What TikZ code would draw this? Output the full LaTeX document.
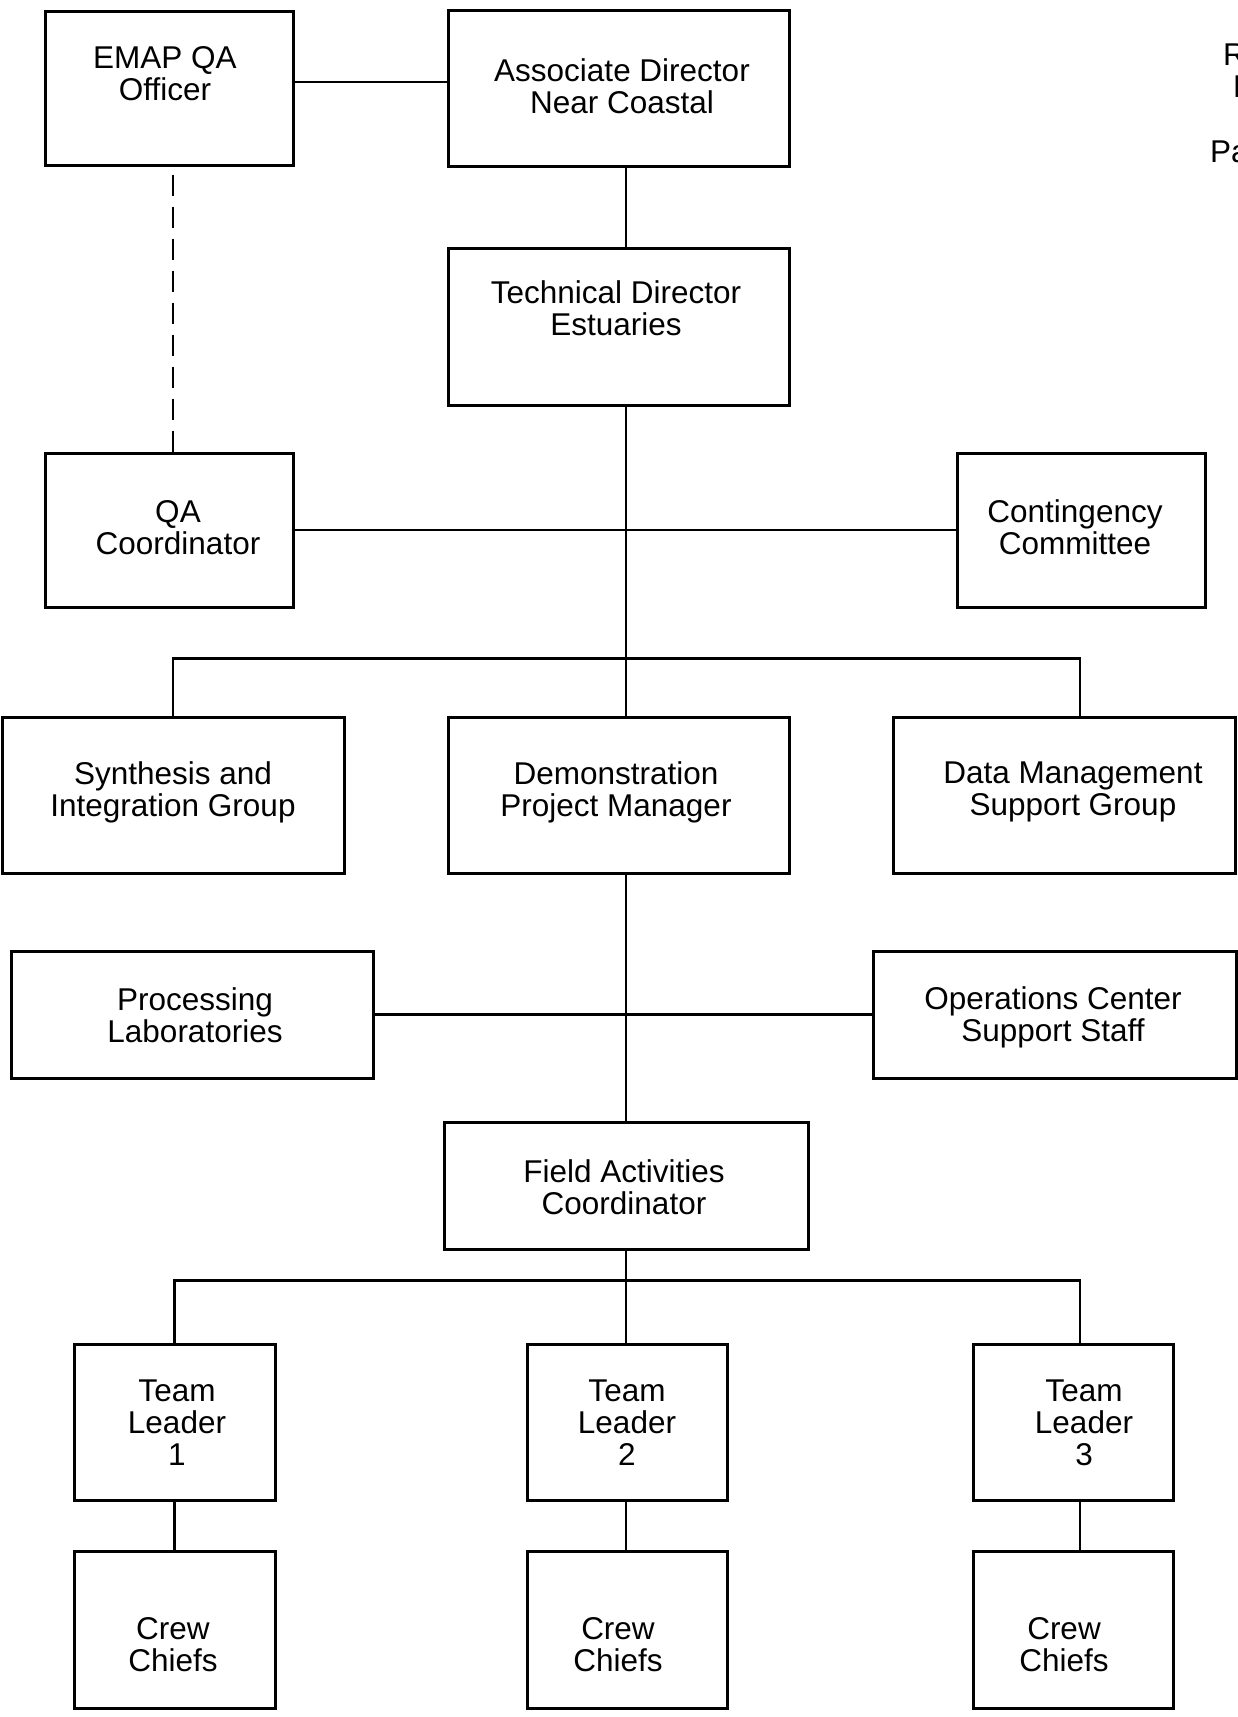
\documentclass[tikz,border=0pt]{standalone}
\usepackage{fontspec}
\setmainfont{Liberation Sans}
\begin{document}
\begin{tikzpicture}[x=1pt,y=-1pt,
  box/.style={draw, line width=3pt, inner sep=0pt},
  conn/.style={line width=2.2pt},
  dashconn/.style={line width=2.6pt, dash pattern=on 21.5pt off 10.5pt, dash phase=24pt},
  lbl/.style={align=center, font=\fontsize{31.5}{32}\selectfont, inner sep=0pt},
  edge/.style={anchor=base west, font=\fontsize{31.5}{32}\selectfont, inner sep=0pt}]
\useasboundingbox (0,0) rectangle (1238,1717);
\fill[white] (0,0) rectangle (1238,1717);

% boxes
\node[box, minimum width=248pt, minimum height=154pt] (emap)  at (169,88) {};
\node[box, minimum width=341pt, minimum height=156pt] (assoc) at (618.5,88) {};
\node[box, minimum width=341pt, minimum height=157pt] (tech)  at (618.5,326.5) {};
\node[box, minimum width=248pt, minimum height=154pt] (qa)    at (169,530) {};
\node[box, minimum width=248pt, minimum height=154pt] (cont)  at (1081,530) {};
\node[box, minimum width=342pt, minimum height=156pt] (synth) at (173,795) {};
\node[box, minimum width=341pt, minimum height=156pt] (demo)  at (618.5,795) {};
\node[box, minimum width=342pt, minimum height=156pt] (data)  at (1064,795) {};
\node[box, minimum width=362pt, minimum height=127pt] (proc)  at (192,1014.5) {};
\node[box, minimum width=363pt, minimum height=127pt] (ops)   at (1054.5,1014.5) {};
\node[box, minimum width=364pt, minimum height=127pt] (field) at (626,1185.5) {};
\node[box, minimum width=201pt, minimum height=156pt] (tlA)   at (174.5,1422) {};
\node[box, minimum width=200pt, minimum height=156pt] (tlB)   at (627,1422) {};
\node[box, minimum width=200pt, minimum height=156pt] (tlC)   at (1073,1422) {};
\node[box, minimum width=201pt, minimum height=157pt] (crA)   at (174.5,1629.5) {};
\node[box, minimum width=200pt, minimum height=157pt] (crB)   at (627,1629.5) {};
\node[box, minimum width=200pt, minimum height=157pt] (crC)   at (1073,1629.5) {};

% texts
\node[lbl] (emapT)  at (165,74)   {EMAP QA\\Officer};
\node[lbl] (assocT) at (622,86)   {Associate Director\\Near Coastal};
\node[lbl] (techT)  at (616,308)  {Technical Director\\Estuaries};
\node[lbl] (qaT)    at (178,528)  {QA\\Coordinator};
\node[lbl] (contT)  at (1075,527) {Contingency\\Committee};
\node[lbl] (synthT) at (173,792)  {Synthesis and\\Integration Group};
\node[lbl] (demoT)  at (616,792)  {Demonstration\\Project Manager};
\node[lbl] (dataT)  at (1073,792) {Data Management\\Support Group};
\node[lbl] (procT)  at (195,1015) {Processing\\Laboratories};
\node[lbl] (opsT)   at (1053,1017){Operations Center\\Support Staff};
\node[lbl] (fieldT) at (624,1187) {Field Activities\\Coordinator};
\node[lbl] (tlAT)   at (177,1423) {Team\\Leader\\1};
\node[lbl] (tlBT)   at (627,1423) {Team\\Leader\\2};
\node[lbl] (tlCT)   at (1084,1423){Team\\Leader\\3};
\node[lbl] (crAT)   at (173,1645) {Crew\\Chiefs};
\node[lbl] (crBT)   at (618,1645) {Crew\\Chiefs};
\node[lbl] (crCT)   at (1064,1645){Crew\\Chiefs};

% text cut by the right edge, as in the reference
\node[edge] (edgeR) at (1223,65)  {R};
\node[edge] (edgeD) at (1233,97)  {D};
\node[edge] (edgeP) at (1210,162) {Pa};

% connectors
\draw[conn] ([yshift=6pt]emap.east) -- ([yshift=6pt]assoc.west);
\draw[dashconn] ([xshift=4pt]emap.south) -- ([xshift=4pt]qa.north);
\draw[conn] ([xshift=7.5pt]assoc.south) -- ([xshift=7.5pt]tech.north);
\draw[conn] ([xshift=7.5pt]tech.south) -- ([xshift=7.5pt]demo.north);
\draw[conn] (qa.east) -- (cont.west);
\draw[conn] (synth.north) -- ++(0,-57) -| ([xshift=16pt]data.north);
\draw[conn] ([xshift=7.5pt]demo.south) -- (field.north);
\draw[conn] (proc.east) -- (ops.west);
\draw[conn] (field.south) -- (field.south |- tlB.north);
\draw[conn] (tlA.north) -- ++(0,-62) -| ([xshift=7pt]tlC.north);
\draw[conn] (tlA.south) -- (crA.north);
\draw[conn] ([xshift=-1pt]tlB.south) -- ([xshift=-1pt]crB.north);
\draw[conn] ([xshift=7pt]tlC.south) -- ([xshift=7pt]crC.north);
\end{tikzpicture}
\end{document}
